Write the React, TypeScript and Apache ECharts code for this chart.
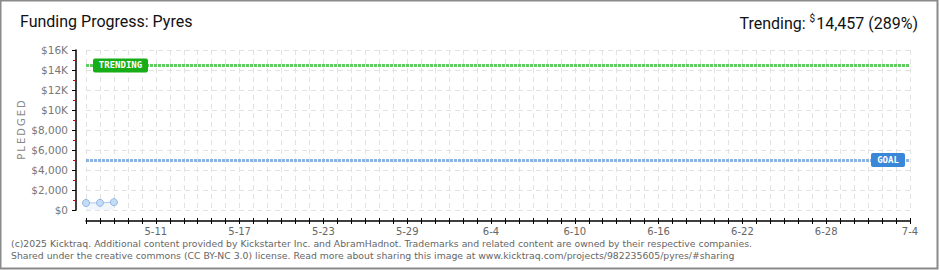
import React, { useEffect, useRef } from "react";
import * as echarts from "echarts";

const START_YEAR = 2025;
const START_MONTH = 5; // May
const START_DAY = 6;
const DAY_COUNT = 60;
const dateCategories: string[] = [];
for (let i = 0; i < DAY_COUNT; i++) {
  const d = new Date(START_YEAR, START_MONTH - 1, START_DAY + i);
  dateCategories.push(`${d.getMonth() + 1}-${d.getDate()}`);
}
const tickLabels = ["5-11", "5-17", "5-23", "5-29", "6-4", "6-10", "6-16", "6-22", "6-28", "7-4"];
const pledged = [700, 720, 780];
const TRENDING = 14457;
const GOAL = 5000;
const TRENDING_PCT = 289;
const Y_MAX = 16000;
const Y_STEP = 2000;

const footer1 =
  "(c)2025 Kicktraq. Additional content provided by Kickstarter Inc. and AbramHadnot. Trademarks and related content are owned by their respective companies.";
const footer2 =
  "Shared under the creative commons (CC BY-NC 3.0) license. Read more about sharing this image at www.kicktraq.com/projects/982235605/pyres/#sharing";

function fmtY(v: number): string {
  if (v >= 10000) return `$${v / 1000}K`;
  return "$" + v.toLocaleString("en-US");
}

export default function App() {
  const ref = useRef<HTMLDivElement>(null);
  useEffect(() => {
    if (!ref.current) return;
    const chart = echarts.init(ref.current, null, { renderer: "svg" });
    const option: any = {
      animation: false,
      backgroundColor: "#ffffff",
      grid: { left: 86, right: 30, top: 50, bottom: 60 },
      xAxis: [
        {
          type: "category",
          data: dateCategories,
          boundaryGap: false,
          offset: 11,
          axisLine: { show: true, onZero: false, lineStyle: { color: "#000", width: 1.5 } },
          axisTick: { show: true, interval: 0, length: 3, lineStyle: { color: "#000" } },
          axisLabel: {
            interval: (_i: number, v: string) => tickLabels.includes(v),
            color: "#666",
            fontSize: 10,
            fontFamily: "DejaVu Sans",
            margin: 5,
          },
          splitLine: {
            show: true,
            interval: 0,
            lineStyle: { color: "#e2e2e2", type: [5, 4], width: 1 },
          },
        },
        {
          type: "category",
          data: dateCategories,
          boundaryGap: false,
          position: "bottom",
          offset: 11,
          axisLine: { show: false, onZero: false },
          axisTick: { show: true, interval: 0, inside: true, length: 3, lineStyle: { color: "#000" } },
          axisLabel: { show: false },
          splitLine: { show: false },
        },
      ],
      yAxis: {
        type: "value",
        min: 0,
        max: Y_MAX,
        interval: Y_STEP,
        offset: 10,
        axisLine: { show: true, onZero: false, lineStyle: { color: "#000", width: 1.5 } },
        axisTick: { show: true, length: 4, lineStyle: { color: "#000" } },
        minorTick: { show: true, splitNumber: 2, length: 3, lineStyle: { color: "#e00000" } },
        axisLabel: {
          formatter: fmtY,
          color: "#777",
          fontSize: 10.5,
          fontFamily: "DejaVu Sans",
          margin: 8,
        },
        splitLine: { lineStyle: { color: "#e2e2e2", type: [5, 4], width: 1 } },
      },
      series: [
        {
          type: "line",
          data: pledged,
          symbol: "circle",
          symbolSize: 7,
          z: 3,
          itemStyle: { color: "#c5dcf6", borderColor: "#8fb6e6", borderWidth: 1 },
          lineStyle: { color: "#a9c9ee", width: 1 },
          areaStyle: { color: "#eaf2fb" },
          markLine: {
            silent: true,
            symbol: "none",
            label: { show: false },
            z: 2,
            data: [
              { yAxis: TRENDING, lineStyle: { color: "#5fcd5f", width: 3, type: [3, 1] } },
              { yAxis: GOAL, lineStyle: { color: "#8db3e2", width: 3, type: [3, 1] } },
            ],
          },
        },
      ],
    };
    chart.setOption(option);

    const pTrend = chart.convertToPixel({ xAxisIndex: 0, yAxisIndex: 0 }, [0, TRENDING]) as number[];
    const pGoal = chart.convertToPixel(
      { xAxisIndex: 0, yAxisIndex: 0 },
      [DAY_COUNT - 1, GOAL]
    ) as number[];
    const pMid = chart.convertToPixel({ xAxisIndex: 0, yAxisIndex: 0 }, [0, Y_MAX / 2]) as number[];

    chart.setOption({
      graphic: [
        {
          type: "rect",
          z: 100,
          shape: { x: 0.5, y: 0.5, width: 937, height: 268 },
          style: { fill: "none", stroke: "#8a8a8a", lineWidth: 2 },
          silent: true,
        },
        {
          type: "text",
          x: 21,
          y: pMid[1],
          rotation: Math.PI / 2,
          style: {
            text: "P\u2009L\u2009E\u2009D\u2009G\u2009E\u2009D",
            font: "10px 'DejaVu Sans'",
            fill: "#888",
            align: "center",
            verticalAlign: "middle",
          },
        },
        {
          type: "text",
          x: 20,
          y: 13,
          style: {
            text: "Funding Progress: Pyres",
            font: "16px Roboto",
            fill: "#111",
          },
        },
        {
          type: "text",
          x: 918,
          y: 13,
          style: {
            text: `{a|Trending: }{s|$}{a|${TRENDING.toLocaleString("en-US")} (${TRENDING_PCT}%)}`,
            align: "right",
            rich: {
              a: { font: "16px Roboto", fill: "#111", verticalAlign: "bottom" },
              s: { font: "10px Roboto", fill: "#111", verticalAlign: "top", padding: [0, 1, 8, 0] },
            },
          },
        },
        {
          type: "group",
          z: 100,
          x: pTrend[0] + 7,
          y: pTrend[1] - 7,
          children: [
            {
              type: "rect",
              z: 100,
              shape: { x: 0, y: 0, width: 55, height: 14, r: 2 },
              style: { fill: "#17ad17" },
            },
            {
              type: "text",
              z: 101,
              x: 27.5,
              y: 7,
              style: {
                text: "TRENDING",
                font: "bold 9px 'DejaVu Sans Mono'",
                fill: "#fff",
                align: "center",
                verticalAlign: "middle",
              },
            },
          ],
        },
        {
          type: "group",
          z: 100,
          x: pGoal[0] - 39,
          y: pGoal[1] - 7,
          children: [
            {
              type: "rect",
              z: 100,
              shape: { x: 0, y: 0, width: 34, height: 14, r: 2 },
              style: { fill: "#3a86d7" },
            },
            {
              type: "text",
              z: 101,
              x: 17,
              y: 7,
              style: {
                text: "GOAL",
                font: "bold 9px 'DejaVu Sans Mono'",
                fill: "#fff",
                align: "center",
                verticalAlign: "middle",
              },
            },
          ],
        },
        {
          type: "text",
          x: 11,
          y: 239,
          style: { text: footer1, font: "9.3px 'DejaVu Sans'", fill: "#666" },
        },
        {
          type: "text",
          x: 11,
          y: 251,
          style: { text: footer2, font: "9.3px 'DejaVu Sans'", fill: "#666" },
        },
      ],
    });

    return () => chart.dispose();
  }, []);
  return (
    <div
      ref={ref}
      style={{ position: "fixed", left: 0, top: 0, width: 940, height: 270, background: "#fff" }}
    />
  );
}
